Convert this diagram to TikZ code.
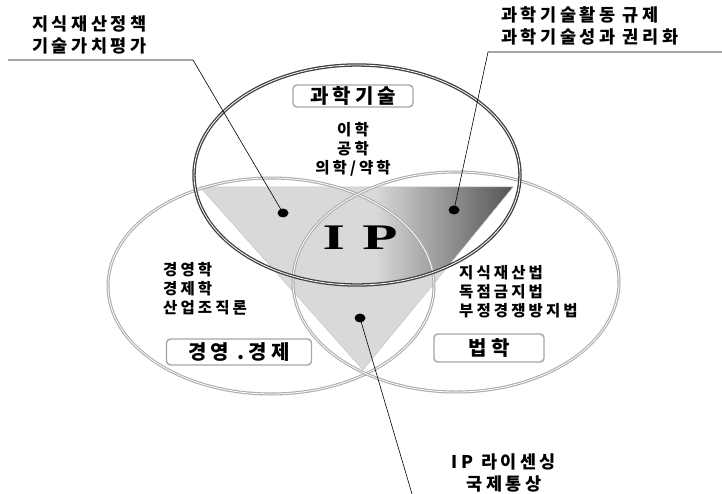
\documentclass[tikz,border=0pt]{standalone}
\usepackage{fontspec}
\newfontfamily\kr{Noto Sans CJK KR}[LetterSpace=20]
\newfontfamily\ipfont{Liberation Serif}
\usepackage{tikz}
\usetikzlibrary{positioning,shapes.geometric}

\begin{document}
\begin{tikzpicture}[
  x=1pt, y=-1pt,
  field/.style={draw=gray!65, double=white, double distance=0.8pt, line width=1.1pt},
  topfield/.style={field, draw=black!75, line width=1.3pt},
  tag/.style={draw=gray!70, rounded corners=4pt, line width=1.4pt, fill=white,
              font=\kr\bfseries\fontsize{20}{22}\selectfont, inner sep=0pt},
  subj/.style={align=left, font=\kr\bfseries\fontsize{15.5}{19}\selectfont, inner sep=0pt},
  note/.style={font=\kr\bfseries\fontsize{17.5}{22}\selectfont, inner sep=0pt},
  spot/.style={ellipse, fill=black, minimum width=11pt, minimum height=9pt, inner sep=0pt},
  lead/.style={draw=black, line width=0.6pt}
]
\useasboundingbox (0,0) rectangle (722,494);

\coordinate (tl) at (200,187);
\coordinate (tr) at (513,187);
\coordinate (ap) at (363,370);
\fill[gray!30] (tl) -- (tr) -- (ap) -- cycle;
\begin{scope}
  \clip (tl) -- (tr) -- (ap) -- cycle;
  \clip (357,175) ellipse [x radius=163, y radius=110];
  \shade[left color=gray!30, right color=black!68] (375,180) rectangle (515,290);
\end{scope}
\draw[gray!45, line width=0.5pt] (tl) -- (tr) -- (ap) -- cycle;

\draw[field] (271,286) ellipse [x radius=163, y radius=108];
\draw[field] (456,282) ellipse [x radius=163, y radius=110];
\draw[topfield] (357,175) ellipse [x radius=163, y radius=110];

\node[font=\ipfont\bfseries\fontsize{36}{36}\selectfont, xscale=1.6, transform shape]
  (ip) at (360,238) {I\hspace{0.3em}P};

\node[tag, minimum width=120pt, minimum height=22pt] (science) at (353,96) {과학기술};
\node[tag, minimum width=145pt, minimum height=26pt] (economy) at (239,352) {경영 .경제};
\node[tag, minimum width=110pt, minimum height=28pt] (law) at (489,348) {법학};

\node[subj, align=center] (scilist) at (353,149) {이학\\공학\\의학/약학};
\node[subj, anchor=west] (ecolist) at (163,289) {경영학\\경제학\\산업조직론};
\node[subj, anchor=west] (lawlist) at (459,292) {지식재산법\\독점금지법\\부정경쟁방지법};

\node[note, align=left, anchor=west] (policy) at (32,35) {지식재산정책\\기술가치평가};
\node[note, align=left, anchor=west] (rights) at (501,26) {과학기술활동 규제\\과학기술성과 권리화};
\node[note, align=center] (trade) at (504,473) {IP 라이센싱\\국제통상};

\coordinate (k1a) at (8,60);
\coordinate (k1b) at (193,60);
\coordinate (k2a) at (722,52);
\coordinate (k2b) at (488,52);
\coordinate (k3) at (412,494);

\node[spot] (spot1) at (283,213) {};
\node[spot] (spot2) at (454,210) {};
\node[spot] (spot3) at (360,318) {};

\path[lead] (k1a) -- (k1b) -- (spot1.center);
\path[lead] (k2a) -- (k2b) -- (spot2.center);
\path[lead] (spot3.center) -- (k3);
\end{tikzpicture}
\end{document}
